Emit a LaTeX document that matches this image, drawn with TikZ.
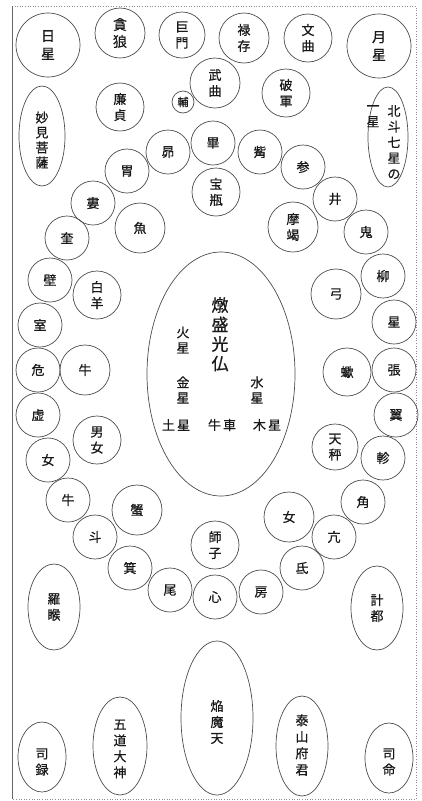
\documentclass[tikz,border=0pt]{standalone}
\usepackage{fontspec}
\setmainfont{Noto Sans CJK JP}[FakeBold=0.6]
\usetikzlibrary{shapes.geometric}
\tikzset{
  lbl/.style={font=\fontsize{13}{16}\selectfont, align=center, inner sep=0pt, text=black!90},
  cl/.style={circle, draw=black!70, line width=0.7pt, inner sep=0pt, lbl},
  el/.style={ellipse, draw=black!70, line width=0.7pt, inner sep=0pt, lbl},
  big/.style={font=\fontsize{16}{20}\selectfont, align=center, inner sep=0pt, text=black!90},
  frame/.style={draw=black!45, line width=0.6pt}
}
\begin{document}
\begin{tikzpicture}[x=1pt,y=-1pt]
\useasboundingbox (0,0) rectangle (422,801);
\draw[frame, dotted] (12,6) -- (416,6) -- (416,799) -- (12,799);
\draw[frame, draw=black!60] (12,6) -- (12,799);
% top row
\node[cl, minimum size=64pt, font=\fontsize{14}{18}\selectfont] (nichi) at (48,45) {日\\星};
\node[cl, minimum size=50pt, font=\fontsize{14}{17}\selectfont] (donro) at (120,33) {貪\\狼};
\node[cl, minimum size=46pt] (kyomon) at (182,35) {巨\\門};
\node[cl, minimum size=50pt] (rokuzon) at (244,38) {禄\\存};
\node[cl, minimum size=48pt] (monkyoku) at (308,38) {文\\曲};
\node[cl, minimum size=64pt, font=\fontsize{14}{18}\selectfont] (gatsu) at (379,46) {月\\星};
\node[cl, minimum size=48pt] (renjo) at (120,107) {廉\\貞};
\node[cl, minimum size=22pt, font=\fontsize{11}{12}\selectfont] (ho) at (183,102) {輔};
\node[cl, minimum size=50pt] (bukyoku) at (215,83) {武\\曲};
\node[cl, minimum size=48pt] (hagun) at (286,93) {破\\軍};
% side ellipses
\node[el, minimum width=46pt, minimum height=100pt] (myoken) at (42,136) {};
\node[lbl, font=\fontsize{13}{15}\selectfont] (myokent) at (42,140) {妙\\見\\菩\\薩};
\node[el, minimum width=40pt, minimum height=100pt] (hokuto) at (388,137) {};
\node[lbl, anchor=north, font=\fontsize{13}{15.7}\selectfont] (hokutoa) at (394,105) {北\\斗\\七\\星\\の};
\node[lbl, anchor=north, font=\fontsize{13}{15.7}\selectfont] (hokutob) at (373,105) {一\\星};
% ring of circles
\node[cl, minimum size=44pt] (bou) at (168,152) {昴};
\node[cl, minimum size=44pt] (hitsu) at (213,143) {畢};
\node[cl, minimum size=44pt] (shi) at (260,152) {觜};
\node[cl, minimum size=44pt] (shin) at (303,167) {参};
\node[cl, minimum size=44pt] (i) at (127,171) {胃};
\node[cl, minimum size=48pt] (hohei) at (216,192) {宝\\瓶};
\node[cl, minimum size=44pt] (ro) at (93,203) {婁};
\node[cl, minimum size=44pt] (sei) at (335,199) {井};
\node[cl, minimum size=50pt] (gyo) at (140,228) {魚};
\node[cl, minimum size=50pt] (makatsu) at (293,227) {摩\\竭};
\node[cl, minimum size=44pt] (kei) at (67,238) {奎};
\node[cl, minimum size=44pt] (ki) at (366,232) {鬼};
\node[cl, minimum size=44pt] (heki) at (50,280) {壁};
\node[cl, minimum size=44pt] (ryu) at (383,276) {柳};
\node[cl, minimum size=48pt] (hakuyo) at (97,295) {白\\羊};
\node[cl, minimum size=50pt] (kyu) at (336,294) {弓};
\node[cl, minimum size=44pt] (shitsu) at (40,325) {室};
\node[cl, minimum size=44pt] (seiR) at (394,322) {星};
\node[cl, minimum size=44pt] (kiki) at (38,370) {危};
\node[cl, minimum size=50pt] (gyuL) at (85,370) {牛};
\node[cl, minimum size=48pt] (katsu) at (347,372) {蠍};
\node[cl, minimum size=44pt] (cho) at (394,370) {張};
\node[cl, minimum size=44pt] (kyo) at (38,415) {虚};
\node[cl, minimum size=48pt] (danjo) at (97,440) {男\\女};
\node[cl, minimum size=44pt] (yoku) at (396,415) {翼};
\node[cl, minimum size=46pt] (tenbin) at (335,447) {天\\秤};
\node[cl, minimum size=44pt] (joL) at (48,460) {女};
\node[cl, minimum size=44pt] (shinR) at (383,458) {軫};
\node[cl, minimum size=44pt] (gyu2) at (68,500) {牛};
\node[cl, minimum size=50pt] (kai) at (137,510) {蟹};
\node[cl, minimum size=44pt] (kaku) at (363,502) {角};
\node[cl, minimum size=50pt] (joR) at (289,517) {女};
\node[cl, minimum size=44pt] (to) at (95,537) {斗};
\node[cl, minimum size=44pt] (ko) at (334,537) {亢};
\node[cl, minimum size=48pt] (shishi) at (215,545) {師\\子};
\node[cl, minimum size=44pt] (kiB) at (130,568) {箕};
\node[cl, minimum size=44pt] (tei) at (302,568) {氐};
\node[cl, minimum size=44pt] (bi) at (170,590) {尾};
\node[cl, minimum size=44pt] (bo) at (261,592) {房};
\node[cl, minimum size=44pt] (shinS) at (215,597) {心};
% central ellipse
\node[el, minimum width=148pt, minimum height=244pt] (center) at (221,374) {};
\node[big, anchor=north, font=\fontsize{17}{19.5}\selectfont] (nyorai) at (220,297) {燉\\盛\\光\\仏};
\node[lbl, font=\fontsize{13}{15.5}\selectfont] (kasei) at (183,340) {火\\星};
\node[lbl, font=\fontsize{13}{15.5}\selectfont] (kinsei) at (183,390) {金\\星};
\node[lbl, font=\fontsize{13}{15.5}\selectfont] (suisei) at (257,390) {水\\星};
\node[lbl] (dosei) at (176,425) {土\,星};
\node[lbl] (gissha) at (222,425) {牛\,車};
\node[lbl] (mokusei) at (267,425) {木\,星};
% lower ellipses
\node[el, minimum width=52pt, minimum height=86pt] (ragon) at (54,607) {羅\\睺};
\node[el, minimum width=52pt, minimum height=84pt] (keito) at (377,608) {計\\都};
\node[el, minimum width=72pt, minimum height=154pt] (enma) at (217,718) {};
\node[lbl] (enmat) at (217,722) {焔\\魔\\天};
\node[el, minimum width=48pt, minimum height=70pt] (shiroku) at (42,757) {};
\node[lbl] (shirokut) at (42,762) {司\\録};
\node[el, minimum width=54pt, minimum height=98pt] (godo) at (120,746) {};
\node[lbl] (godot) at (120,749) {五\\道\\大\\神};
\node[el, minimum width=52pt, minimum height=100pt] (taizan) at (302,746) {};
\node[lbl, font=\fontsize{13}{16.5}\selectfont] (taizant) at (302,745) {泰\\山\\府\\君};
\node[el, minimum width=48pt, minimum height=70pt] (shimei) at (389,758) {};
\node[lbl] (shimeit) at (389,762) {司\\命};
\end{tikzpicture}
\end{document}
